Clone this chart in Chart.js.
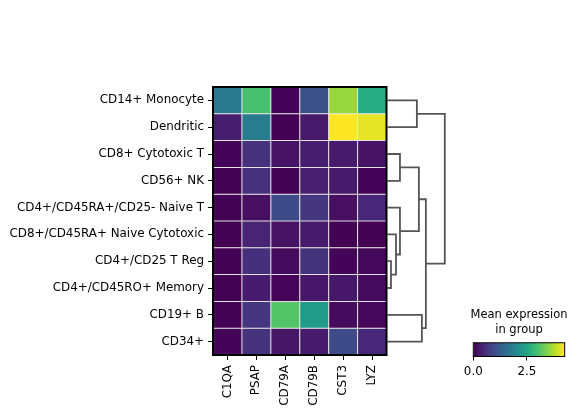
<!DOCTYPE html>
<html>
<head>
<meta charset="utf-8">
<script src="https://cdn.jsdelivr.net/npm/chart.js@4.4.1/dist/chart.umd.min.js"></script>
<style>
  html, body { margin: 0; padding: 0; background: #fff; }
  #wrap { position: relative; width: 578px; height: 417px; background: #fff; overflow: hidden; }
  canvas { position: absolute; }
</style>
</head>
<body>
<div id="wrap">
  <canvas id="heat" width="390" height="417" style="left:0px;top:0px;width:390px;height:417px;"></canvas>
  <canvas id="dendro" width="80" height="417" style="left:380px;top:0px;width:80px;height:417px;"></canvas>
  <canvas id="cbar" width="118" height="90" style="left:460px;top:300px;width:118px;height:90px;"></canvas>
</div>
<script>
// ---------------- data ----------------
const groups = ['CD14+ Monocyte', 'Dendritic', 'CD8+ Cytotoxic T', 'CD56+ NK',
  'CD4+/CD45RA+/CD25- Naive T', 'CD8+/CD45RA+ Naive Cytotoxic', 'CD4+/CD25 T Reg',
  'CD4+/CD45RO+ Memory', 'CD19+ B', 'CD34+'];
const genes = ['C1QA', 'PSAP', 'CD79A', 'CD79B', 'CST3', 'LYZ'];
// mean expression per gene, one value per group (same order as groups)
const C1QA  = [1.70, 0.34, 0.02, 0.01, 0.01, 0.01, 0.01, 0.01, 0.01, 0.04];
const PSAP  = [3.00, 1.75, 0.60, 0.60, 0.17, 0.42, 0.58, 0.33, 0.68, 0.62];
const CD79A = [0.03, 0.01, 0.22, 0.01, 0.94, 0.22, 0.12, 0.06, 3.10, 0.25];
const CD79B = [1.06, 0.30, 0.35, 0.38, 0.66, 0.30, 0.64, 0.27, 2.30, 0.30];
const CST3  = [3.60, 4.26, 0.30, 0.30, 0.17, 0.01, 0.04, 0.28, 0.12, 0.94];
const LYZ   = [2.63, 4.10, 0.22, 0.04, 0.47, 0.01, 0.10, 0.12, 0.08, 0.47];
const colorbarTicks = [0, 2.5];
const colorbarTitle = ['Mean expression', 'in group'];
// dendrogram linkage (scipy style): [childA, childB, height]; ids >= 10 are earlier merges
const linkage = [
  [6, 7, 0.077],
  [5, 10, 0.174],
  [0, 1, 0.579],
  [2, 3, 0.251],
  [4, 11, 0.251],
  [13, 14, 0.618],
  [8, 9, 0.676],
  [15, 16, 0.753],
  [12, 17, 1.12]
];

// ---------------- styling helpers ----------------
const geneValues = [C1QA, PSAP, CD79A, CD79B, CST3, LYZ];
const vmin = 0;
const vmax = Math.max(...geneValues.flat());
const VIRIDIS = ['#440154', '#482475', '#414487', '#355f8d', '#2a788e', '#21918c',
  '#22a884', '#44bf70', '#7ad151', '#bddf26', '#fde725'];
function hexToRgb(h) { return [1, 3, 5].map(i => parseInt(h.substr(i, 2), 16)); }
function viridis(t) {
  t = Math.max(0, Math.min(1, t));
  const p = t * (VIRIDIS.length - 1);
  const i = Math.min(Math.floor(p), VIRIDIS.length - 2);
  const f = p - i;
  const a = hexToRgb(VIRIDIS[i]), b = hexToRgb(VIRIDIS[i + 1]);
  const c = a.map((v, k) => Math.round(v + (b[k] - v) * f));
  return `rgb(${c[0]},${c[1]},${c[2]})`;
}

Chart.defaults.font.family = "'DejaVu Sans', sans-serif";
Chart.defaults.color = '#000';

const FS = 11.9;
const frame = (w) => ({
  id: 'frame',
  afterDraw(chart) {
    const { ctx, chartArea: a } = chart;
    ctx.save();
    ctx.strokeStyle = '#000';
    ctx.lineWidth = w;
    ctx.strokeRect(a.left, a.top, a.right - a.left, a.bottom - a.top);
    ctx.restore();
  }
});
const noSidePad = s => { s.paddingLeft = 0; s.paddingRight = 0; };
const spacerAxis = (pos, w) => ({
  type: 'linear', position: pos, display: true,
  afterFit: s => { s.width = w; },
  ticks: { display: false }, grid: { display: false, drawTicks: false }, border: { display: false }
});

// ---------------- heatmap ----------------
new Chart(document.getElementById('heat'), {
  type: 'bar',
  data: {
    labels: groups,
    datasets: genes.map((g, i) => ({
      label: g,
      data: groups.map(() => 1),
      backgroundColor: geneValues[i].map(v => viridis((v - vmin) / (vmax - vmin))),
      borderColor: 'rgba(150,150,150,0.55)',
      borderWidth: 0.5,
      borderSkipped: false,
      barPercentage: 1,
      categoryPercentage: 1,
      inflateAmount: 0
    }))
  },
  options: {
    indexAxis: 'y',
    responsive: false,
    animation: false,
    layout: { padding: { top: 87, right: 3.5, left: 0, bottom: 0 } },
    plugins: { legend: { display: false }, tooltip: { enabled: false } },
    scales: {
      x: {
        type: 'linear', stacked: true, min: 0, max: genes.length,
        afterBuildTicks: s => { s.ticks = genes.map((g, i) => ({ value: i + 0.5 })); },
        afterFit: s => { s.height = 62; noSidePad(s); },
        grid: { drawOnChartArea: false, tickLength: 5, tickColor: '#000', tickWidth: 1 },
        border: { display: false },
        ticks: {
          autoSkip: false, minRotation: 90, maxRotation: 90, padding: 5,
          font: { size: FS }, color: '#000',
          callback: (v, i) => genes[i]
        }
      },
      y: {
        stacked: true,
        afterFit: s => { s.width = 213; },
        grid: { drawOnChartArea: false, offset: false, tickLength: 5, tickColor: '#000', tickWidth: 1 },
        border: { display: false },
        ticks: { padding: 4, font: { size: FS }, color: '#000', autoSkip: false }
      }
    }
  },
  plugins: [frame(2)]
});

// ---------------- dendrogram ----------------
const nodeY = groups.map((g, i) => i);
const nodeH = groups.map(() => 0);
const dendroSets = linkage.map(([a, b, h]) => {
  const ya = nodeY[a], yb = nodeY[b];
  const set = {
    data: [{ x: nodeH[a], y: ya }, { x: h, y: ya }, { x: h, y: yb }, { x: nodeH[b], y: yb }],
    showLine: true, borderColor: '#555555', borderWidth: 1.8, pointRadius: 0,
    tension: 0, clip: false, fill: false
  };
  nodeY.push((ya + yb) / 2);
  nodeH.push(h);
  return set;
});
new Chart(document.getElementById('dendro'), {
  type: 'scatter',
  data: { datasets: dendroSets },
  options: {
    responsive: false, animation: false,
    layout: { padding: { left: 7, right: 9, top: 87, bottom: 62 } },
    plugins: { legend: { display: false }, tooltip: { enabled: false } },
    scales: {
      x: { type: 'linear', min: 0, max: 1.24, display: false },
      y: { type: 'linear', min: -0.5, max: groups.length - 0.5, reverse: true, display: false }
    }
  }
});

// ---------------- colorbar ----------------
new Chart(document.getElementById('cbar'), {
  type: 'bar',
  data: {
    labels: ['cb'],
    datasets: [{
      data: [[vmin, vmax]],
      backgroundColor: (c) => {
        const a = c.chart.chartArea;
        if (!a) return viridis(0.5);
        const g = c.chart.ctx.createLinearGradient(a.left, 0, a.right, 0);
        VIRIDIS.forEach((col, k) => g.addColorStop(k / (VIRIDIS.length - 1), col));
        return g;
      },
      borderWidth: 0,
      barPercentage: 1, categoryPercentage: 1, inflateAmount: 0
    }]
  },
  options: {
    indexAxis: 'y',
    responsive: false, animation: false,
    layout: { padding: 0 },
    plugins: {
      legend: { display: false }, tooltip: { enabled: false },
      title: {
        display: true, text: colorbarTitle, color: '#000',
        font: { size: 11.5, weight: 'normal', lineHeight: 1.25 },
        padding: { top: 8, bottom: 6 }
      }
    },
    scales: {
      x: {
        type: 'linear', min: vmin, max: vmax,
        afterBuildTicks: s => { s.ticks = colorbarTicks.map(v => ({ value: v })); },
        afterFit: s => { s.height = 33.5; noSidePad(s); },
        grid: { drawOnChartArea: false, tickLength: 4, tickColor: '#000', tickWidth: 1 },
        border: { display: false },
        ticks: { padding: 4, font: { size: FS }, color: '#000', callback: v => Number(v).toFixed(1) }
      },
      y: {
        type: 'category', position: 'left', display: true,
        afterFit: s => { s.width = 13.3; },
        ticks: { display: false }, grid: { display: false, drawTicks: false }, border: { display: false }
      },
      yR: spacerAxis('right', 13.3)
    }
  },
  plugins: [frame(1)]
});
</script>
</body>
</html>
